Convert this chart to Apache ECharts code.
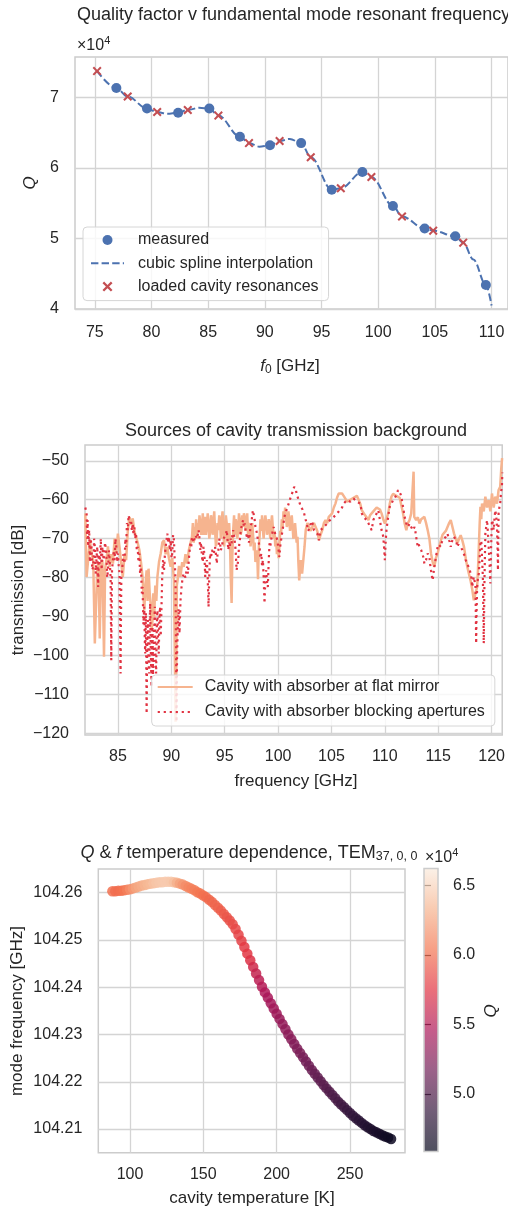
<!DOCTYPE html>
<html><head><meta charset="utf-8">
<script src="https://cdn.jsdelivr.net/npm/echarts@6/dist/echarts.min.js"></script>
<style>html,body{margin:0;padding:0;background:#fff;}#c{width:508px;height:1211px;}</style>
</head><body><div id="c"></div>
<script>
// ---------- Chart 1: Q vs f0 (Q in units of 1e4) ----------
const measuredF = [76.9, 79.6, 82.35, 85.1, 87.8, 90.45, 93.2, 95.9, 98.6, 101.3, 104.1, 106.8, 109.5];
const measuredQ = [7.13, 6.84, 6.78, 6.84, 6.44, 6.32, 6.35, 5.69, 5.94, 5.46, 5.14, 5.03, 4.34];
const resonanceF = [75.2, 77.9, 80.5, 83.2, 85.9, 88.6, 91.3, 94.05, 96.7, 99.4, 102.1, 104.85, 107.5];
const resonanceQ = [7.37, 7.01, 6.79, 6.82, 6.74, 6.35, 6.38, 6.15, 5.71, 5.87, 5.31, 5.11, 4.94];
const splineF = [75.2, 76.9, 77.9, 79.6, 80.5, 81.4, 82.35, 83.2, 84.2, 85.1, 85.9, 87.8, 88.6, 89.5, 90.45, 91.3, 92.2, 93.2, 94.05, 95.9, 96.7, 98.6, 99.4, 101.3, 102.1, 104.1, 104.85, 106.8, 107.5, 108.4, 109.5, 110.0];
const splineQ = [7.37, 7.13, 7.01, 6.84, 6.79, 6.765, 6.78, 6.82, 6.85, 6.84, 6.74, 6.44, 6.35, 6.30, 6.32, 6.38, 6.41, 6.35, 6.15, 5.69, 5.71, 5.94, 5.87, 5.46, 5.31, 5.14, 5.11, 5.03, 4.94, 4.70, 4.34, 4.05];
const f0Ticks = [75, 80, 85, 90, 95, 100, 105, 110];
const qTicks = [4, 5, 6, 7];

// ---------- Chart 2: transmission traces [frequency GHz, dB] ----------
const mirrorTrace = [[81.95,-63.5],[82.07,-79.8],[82.22,-80.2],[82.38,-70.4],[82.53,-74],[82.69,-75.5],[82.84,-96.9],[82.93,-96.9],[83.06,-78.1],[83.18,-76],[83.30,-95.6],[83.42,-77],[83.55,-75.5],[83.70,-100.3],[83.80,-78],[83.92,-75.5],[84.07,-72],[84.23,-77.2],[84.38,-74],[84.54,-76.4],[84.69,-70],[84.85,-73.8],[85.00,-68.7],[85.15,-72.1],[85.30,-76],[85.46,-79.8],[85.62,-74],[85.77,-75.5],[85.93,-68],[86.08,-64.4],[86.23,-66.5],[86.39,-64.8],[86.54,-68],[86.70,-67.8],[86.85,-71],[87.01,-72.9],[87.16,-76],[87.31,-79.8],[87.47,-88.4],[87.58,-82],[87.69,-78.1],[87.78,-86],[87.87,-77.7],[87.98,-84],[88.09,-87.5],[88.17,-93],[88.24,-90.9],[88.32,-84],[88.40,-90.1],[88.50,-82],[88.60,-86],[88.70,-79.8],[88.85,-76],[89.01,-73.8],[89.16,-71],[89.32,-70.4],[89.47,-74],[89.63,-72.1],[89.78,-75],[89.94,-77.2],[90.09,-75],[90.25,-80.7],[90.35,-104.6],[90.40,-117.0],[90.47,-104],[90.52,-82],[90.59,-80.7],[90.72,-77],[90.86,-79.8],[91.02,-76],[91.17,-77.2],[91.33,-74],[91.48,-76.4],[91.64,-73],[91.79,-72.9],[91.94,-69.5],[92.02,-66],[92.10,-71],[92.18,-67],[92.25,-68.7],[92.33,-65],[92.41,-70],[92.48,-66],[92.56,-68.2],[92.64,-64],[92.72,-66],[92.80,-69],[92.87,-67.0],[92.95,-63.5],[93.02,-69],[93.10,-66],[93.18,-64.4],[93.25,-69],[93.33,-67],[93.41,-63.5],[93.49,-66.1],[93.56,-70],[93.64,-68],[93.72,-64],[93.80,-65.2],[93.87,-69],[93.95,-66],[94.02,-63],[94.10,-67.8],[94.18,-72],[94.26,-70],[94.33,-66],[94.41,-67.8],[94.49,-64],[94.57,-66],[94.64,-70],[94.72,-65.2],[94.80,-63],[94.88,-68],[94.95,-72],[95.03,-67.8],[95.11,-64],[95.19,-66],[95.26,-71],[95.34,-69.5],[95.42,-66],[95.49,-70.4],[95.57,-80],[95.65,-86.5],[95.72,-74],[95.80,-67.8],[95.88,-64],[95.96,-69],[96.03,-65],[96.11,-66.1],[96.19,-70],[96.27,-67],[96.34,-63.5],[96.42,-65.2],[96.50,-69],[96.57,-68],[96.65,-64],[96.73,-67.0],[96.80,-63.5],[96.88,-64.5],[96.96,-68],[97.04,-66.1],[97.11,-63.5],[97.19,-69],[97.27,-66],[97.35,-67.0],[97.42,-72],[97.50,-70],[97.58,-66],[97.65,-68.7],[97.73,-73],[97.81,-71],[97.88,-76],[97.96,-74.7],[98.04,-73],[98.12,-80.4],[98.20,-72],[98.27,-69.5],[98.35,-65],[98.43,-68],[98.50,-64],[98.58,-67.8],[98.65,-70],[98.73,-66],[98.81,-64],[98.89,-66.1],[98.96,-69],[99.04,-68],[99.12,-65],[99.20,-67.8],[99.27,-70],[99.35,-66],[99.43,-64],[99.51,-67.0],[99.58,-70],[99.66,-68],[99.74,-72],[99.81,-69.5],[99.89,-74],[99.97,-71],[100.05,-75],[100.12,-72.1],[100.20,-68],[100.28,-69],[100.35,-65],[100.43,-67.0],[100.51,-63],[100.59,-65],[100.66,-62],[100.74,-64.4],[100.82,-67],[100.90,-66],[100.97,-63],[101.05,-65.2],[101.12,-68],[101.20,-66],[101.28,-64],[101.36,-67.0],[101.43,-70],[101.51,-69],[101.59,-66],[101.67,-68.7],[101.74,-71],[101.82,-69.5],[101.90,-76],[101.98,-80.7],[102.05,-78],[102.13,-75.5],[102.25,-79],[102.38,-78.9],[102.48,-72],[102.59,-67.8],[102.75,-66],[102.90,-66.1],[103.06,-68],[103.21,-67.0],[103.36,-66],[103.52,-65.7],[103.67,-68],[103.83,-70.4],[103.98,-69],[104.14,-67.8],[104.29,-66],[104.44,-65.2],[104.60,-66],[104.75,-64.4],[104.91,-64],[105.06,-63.5],[105.22,-62],[105.37,-61.0],[105.52,-59.5],[105.68,-58.4],[105.83,-58],[105.99,-58.4],[106.14,-59],[106.30,-59.7],[106.45,-60.5],[106.60,-60.5],[106.76,-60],[106.91,-60.1],[107.07,-59.5],[107.22,-59.7],[107.38,-59],[107.53,-59.2],[107.69,-61],[107.84,-62.7],[107.99,-63],[108.15,-64.0],[108.30,-64.5],[108.46,-65.2],[108.61,-64],[108.77,-64.4],[108.92,-63],[109.07,-62.7],[109.23,-62],[109.38,-61.8],[109.54,-62.5],[109.69,-63.5],[109.85,-65],[110.00,-66.1],[110.15,-65],[110.31,-63.5],[110.46,-61],[110.62,-59.2],[110.77,-58.5],[110.93,-58.4],[111.08,-59],[111.23,-58.8],[111.39,-59.5],[111.54,-59.2],[111.70,-63.5],[111.85,-66],[112.01,-67.8],[112.16,-66],[112.31,-65.2],[112.47,-63.5],[112.62,-64],[112.69,-52.8],[112.75,-64.4],[112.93,-65.2],[113.09,-64.5],[113.24,-66.1],[113.40,-65],[113.55,-65.2],[113.70,-64.4],[113.86,-66],[114.01,-67.8],[114.17,-70],[114.32,-73.8],[114.48,-76],[114.63,-77.2],[114.78,-75],[114.94,-73.8],[115.09,-72],[115.25,-70.4],[115.40,-69],[115.56,-68.7],[115.71,-68],[115.86,-67.8],[116.02,-66],[116.17,-65.2],[116.33,-65.2],[116.48,-68.7],[116.64,-70],[116.79,-71.2],[116.95,-70],[117.10,-69.1],[117.26,-70.5],[117.41,-72.1],[117.57,-75],[117.72,-77.2],[117.87,-79],[118.02,-80.7],[118.18,-83],[118.33,-85.8],[118.49,-84],[118.64,-82.4],[118.72,-78],[118.80,-72.1],[118.88,-66],[118.95,-61.8],[119.03,-65],[119.10,-61.0],[119.26,-63],[119.41,-59.2],[119.57,-62],[119.72,-60.1],[119.88,-63],[120.03,-58.4],[120.19,-62],[120.34,-59.2],[120.50,-61],[120.65,-57.5],[120.80,-56.7],[120.90,-52],[120.98,-49.3]];
const apertureTrace = [[81.95,-62],[82.07,-63.5],[82.12,-70],[82.16,-65.2],[82.22,-72],[82.31,-67.8],[82.38,-76],[82.45,-70],[82.53,-72.1],[82.60,-78],[82.69,-77.2],[82.77,-70],[82.84,-72.1],[82.92,-79],[82.99,-75.5],[83.07,-72],[83.15,-82.4],[83.22,-74],[83.30,-76.4],[83.40,-70],[83.48,-78],[83.55,-72.1],[83.67,-75.5],[83.80,-71],[83.92,-73.8],[84.00,-80],[84.07,-78.1],[84.15,-73],[84.23,-75.5],[84.32,-80],[84.38,-101.2],[84.45,-78],[84.54,-78.1],[84.62,-73],[84.69,-75.5],[84.77,-70],[84.85,-72.1],[84.93,-76],[85.00,-73.8],[85.08,-77],[85.15,-78.9],[85.25,-104.6],[85.32,-80],[85.40,-78.1],[85.50,-74],[85.62,-76.4],[85.70,-70],[85.77,-72.1],[85.85,-66],[85.93,-67.8],[86.00,-64],[86.08,-63.5],[86.15,-66],[86.23,-65.2],[86.31,-68],[86.39,-66.1],[86.46,-69],[86.54,-67.0],[86.62,-70],[86.70,-68.7],[86.77,-73],[86.85,-72.1],[86.93,-76],[87.01,-73.8],[87.08,-79],[87.16,-77.2],[87.24,-84],[87.31,-82.4],[87.39,-92],[87.47,-87.5],[87.52,-96],[87.56,-99.5],[87.62,-89],[87.69,-114.9],[87.75,-95],[87.81,-90.9],[87.87,-101],[87.93,-104.6],[87.98,-92],[88.02,-86.6],[88.08,-98],[88.15,-108.0],[88.20,-95],[88.24,-92.6],[88.29,-105],[88.33,-102.1],[88.40,-94],[88.46,-87.5],[88.52,-100],[88.58,-104.6],[88.64,-93],[88.70,-88.4],[88.76,-96],[88.83,-99.5],[88.89,-90],[88.95,-87.5],[89.01,-95],[89.07,-89.2],[89.15,-80],[89.23,-75.5],[89.32,-78],[89.41,-73.8],[89.52,-71],[89.63,-68.7],[89.70,-71],[89.78,-69.5],[89.86,-73],[89.94,-70.4],[90.02,-75],[90.09,-73.8],[90.17,-69],[90.25,-70.4],[90.33,-76],[90.40,-81.5],[90.45,-100],[90.49,-117.0],[90.54,-100],[90.59,-94.3],[90.68,-88],[90.77,-94.3],[90.86,-86],[90.96,-82.4],[91.06,-80],[91.17,-78.9],[91.33,-80],[91.48,-77.2],[91.56,-79],[91.64,-75.5],[91.72,-73],[91.79,-71.2],[91.87,-72],[91.94,-69.5],[92.10,-71],[92.25,-69.1],[92.41,-70],[92.56,-67.8],[92.64,-70],[92.72,-72.9],[92.79,-71],[92.87,-74.7],[92.95,-76],[93.02,-72.1],[93.10,-74],[93.18,-79.8],[93.25,-77],[93.33,-75.5],[93.41,-80],[93.49,-87.5],[93.56,-79],[93.64,-73.8],[93.72,-75],[93.80,-72.9],[93.95,-74],[94.10,-72.1],[94.18,-74],[94.26,-76.4],[94.33,-74],[94.41,-72.9],[94.49,-70],[94.57,-71.2],[94.64,-73],[94.72,-72.1],[94.88,-70],[95.03,-70.4],[95.11,-69],[95.19,-67.8],[95.26,-70],[95.34,-72.9],[95.42,-71],[95.49,-72.1],[95.57,-70],[95.65,-71.2],[95.72,-69],[95.80,-67.8],[95.88,-69],[95.96,-68.7],[96.03,-73],[96.11,-78.1],[96.19,-77],[96.27,-75.5],[96.34,-72],[96.42,-70.4],[96.50,-68],[96.57,-67.0],[96.65,-66],[96.73,-65.2],[96.80,-67],[96.88,-66.1],[96.96,-68],[97.04,-67.8],[97.11,-70],[97.19,-68.7],[97.27,-71],[97.35,-68.7],[97.42,-67],[97.50,-66.1],[97.58,-64],[97.65,-62.7],[97.73,-64],[97.81,-65.2],[97.88,-67],[97.96,-67.8],[98.04,-69],[98.12,-70.4],[98.19,-71],[98.27,-72.1],[98.35,-75],[98.43,-73.8],[98.50,-77],[98.58,-75.5],[98.65,-80],[98.73,-86.6],[98.81,-80],[98.89,-78.1],[98.96,-81],[99.04,-82.4],[99.12,-76],[99.20,-71.2],[99.27,-72],[99.35,-70.4],[99.43,-69],[99.51,-68.7],[99.58,-67],[99.66,-67.8],[99.74,-69],[99.81,-68.7],[99.89,-70],[99.97,-71.2],[100.05,-73],[100.12,-74.7],[100.20,-72],[100.28,-70.4],[100.35,-69],[100.43,-67.8],[100.51,-66],[100.59,-64.4],[100.74,-63],[100.90,-61.8],[101.05,-60.5],[101.20,-59.2],[101.36,-58],[101.51,-56.7],[101.59,-57],[101.67,-57.5],[101.74,-58.5],[101.82,-59.2],[101.98,-60.5],[102.13,-61.8],[102.29,-62.5],[102.44,-63.5],[102.52,-64.5],[102.59,-65.2],[102.67,-66],[102.75,-67.0],[102.82,-68],[102.90,-67.8],[102.98,-67],[103.06,-66.1],[103.13,-65.5],[103.21,-65.2],[103.29,-66.5],[103.36,-67.8],[103.52,-68],[103.67,-68.7],[103.75,-69.5],[103.83,-70.4],[103.90,-69],[103.98,-67.8],[104.14,-67.5],[104.29,-67.0],[104.44,-66.5],[104.60,-66.1],[104.75,-65.5],[104.91,-65.2],[105.06,-64.8],[105.22,-64.4],[105.37,-64],[105.52,-63.5],[105.68,-63],[105.83,-62.7],[105.99,-62],[106.14,-61.0],[106.30,-60.5],[106.45,-60.1],[106.60,-60.5],[106.76,-60.5],[106.91,-60],[107.07,-59.7],[107.22,-60],[107.38,-60.5],[107.53,-60.5],[107.69,-61.0],[107.76,-62],[107.84,-63.5],[107.92,-64],[107.99,-64.4],[108.15,-64.8],[108.30,-65.2],[108.46,-66],[108.61,-67.0],[108.69,-67.5],[108.77,-67.8],[108.84,-66.5],[108.92,-65.2],[108.99,-64.8],[109.07,-64.4],[109.15,-64],[109.23,-63.5],[109.30,-63],[109.38,-62.7],[109.46,-64],[109.54,-65.2],[109.61,-66.5],[109.69,-67.8],[109.77,-68.5],[109.85,-69.5],[109.92,-72],[110.00,-75.5],[110.07,-71],[110.15,-67.8],[110.23,-66],[110.31,-64.4],[110.38,-63],[110.46,-61.8],[110.62,-61],[110.77,-60.1],[110.93,-59.5],[111.08,-59.2],[111.15,-58.5],[111.23,-57.5],[111.31,-57.7],[111.39,-58.0],[111.46,-58.5],[111.54,-59.2],[111.62,-60.5],[111.70,-61.8],[111.77,-63],[111.85,-64.4],[111.93,-65.3],[112.01,-66.1],[112.08,-66.5],[112.16,-67.0],[112.24,-66.5],[112.31,-66.1],[112.39,-66.5],[112.47,-67.0],[112.54,-67.5],[112.62,-67.8],[112.70,-67.5],[112.78,-67.0],[112.85,-68],[112.93,-69.5],[113.01,-71],[113.09,-72.1],[113.16,-71.5],[113.24,-71.2],[113.32,-72],[113.40,-72.9],[113.47,-73.5],[113.55,-73.8],[113.63,-75],[113.70,-76.4],[113.78,-76],[113.86,-75.5],[113.93,-74.5],[114.01,-73.8],[114.09,-74],[114.17,-74.7],[114.24,-76.5],[114.32,-78.1],[114.40,-79.5],[114.48,-80.7],[114.55,-79],[114.63,-77.2],[114.71,-76],[114.78,-74.7],[114.86,-73.5],[114.94,-72.1],[115.01,-71.5],[115.09,-71.2],[115.17,-71.5],[115.25,-72.1],[115.32,-71],[115.40,-70.4],[115.56,-70],[115.71,-69.5],[115.79,-69],[115.86,-68.7],[115.94,-69.5],[116.02,-70.4],[116.09,-71],[116.17,-72.1],[116.25,-71],[116.33,-70.4],[116.40,-70],[116.48,-69.5],[116.56,-70],[116.64,-70.4],[116.71,-71],[116.79,-72.1],[116.87,-71.5],[116.95,-71.2],[117.02,-71.5],[117.10,-72.1],[117.18,-72.5],[117.26,-72.9],[117.33,-73.5],[117.41,-73.8],[117.49,-74.5],[117.57,-75.5],[117.64,-76],[117.72,-76.4],[117.80,-77],[117.87,-77.2],[117.95,-78],[118.02,-78.9],[118.10,-80],[118.18,-82.4],[118.25,-81],[118.33,-79.8],[118.41,-81],[118.49,-82.4],[118.52,-90],[118.55,-96.9],[118.58,-90],[118.64,-82.4],[118.72,-80],[118.80,-78.9],[118.88,-75],[118.95,-71.2],[119.03,-70.5],[119.10,-70.4],[119.18,-80],[119.26,-96.9],[119.33,-80],[119.41,-68.7],[119.49,-67],[119.57,-65.2],[119.64,-68],[119.72,-72.1],[119.80,-76],[119.88,-81.5],[119.95,-72],[120.03,-65.2],[120.11,-66],[120.19,-67.8],[120.26,-65],[120.34,-62.7],[120.42,-64],[120.50,-67.0],[120.55,-72],[120.59,-78.1],[120.62,-70],[120.65,-63.5],[120.72,-62],[120.80,-61.0],[120.88,-58],[120.96,-56.7],[121.0,-53]];
const freqTicks = [85, 90, 95, 100, 105, 110, 115, 120];
const dbTicks = [-120, -110, -100, -90, -80, -70, -60, -50];

// ---------- Chart 3: temperature dependence (Q in units of 1e4) ----------
const tempK = [88,90,92,94,96,98,100,102,104,106,
  108,110,112,114,116,118,120,122,124,126,
  128,130,132,134,136,138,140,142,144,146,
  148,150,152,154,156,158,160,162,164,166,
  168,170,172,174,176,178,180,182,184,186,
  188,190,192,194,196,198,200,202,204,206,
  208,210,212,214,216,218,220,222,224,226,
  228,230,232,234,236,238,240,242,244,246,
  248,250,252,254,256,258,260,262,264,266,
  268,270,272,274,276,278];
const modeFreq = [104.2603,104.2603,104.2604,104.2604,104.2605,104.2606,104.2607,104.2609,104.2611,104.2613,
  104.2615,104.2616,104.2618,104.2619,104.2620,104.2621,104.2622,104.2622,104.2623,104.2623,
  104.2623,104.2622,104.2621,104.2619,104.2617,104.2614,104.2611,104.2608,104.2605,104.2601,
  104.2598,104.2594,104.2590,104.2585,104.2580,104.2574,104.2568,104.2562,104.2555,104.2548,
  104.2541,104.2533,104.2523,104.2511,104.2498,104.2485,104.2471,104.2457,104.2443,104.2429,
  104.2415,104.2401,104.2389,104.2378,104.2366,104.2355,104.2344,104.2333,104.2322,104.2311,
  104.2300,104.2290,104.2280,104.2270,104.2261,104.2252,104.2243,104.2234,104.2225,104.2217,
  104.2209,104.2201,104.2193,104.2186,104.2179,104.2172,104.2165,104.2158,104.2152,104.2146,
  104.2140,104.2134,104.2128,104.2123,104.2118,104.2113,104.2108,104.2104,104.2100,104.2096,
  104.2093,104.2090,104.2087,104.2084,104.2082,104.2079];
const modeQ = [6.02,6.00,6.00,6.02,6.04,6.08,6.15,6.20,6.25,6.28,
  6.30,6.33,6.35,6.37,6.40,6.42,6.43,6.44,6.45,6.45,
  6.44,6.40,6.32,6.25,6.20,6.15,6.12,6.10,6.08,6.06,
  6.04,6.02,6.00,5.99,5.98,5.97,5.96,5.94,5.92,5.90,
  5.88,5.86,5.84,5.82,5.80,5.78,5.76,5.72,5.65,5.58,
  5.54,5.50,5.47,5.44,5.42,5.40,5.38,5.36,5.34,5.32,
  5.30,5.28,5.26,5.24,5.22,5.20,5.18,5.16,5.14,5.12,
  5.10,5.08,5.06,5.04,5.02,5.00,4.98,4.96,4.94,4.92,
  4.90,4.88,4.86,4.84,4.82,4.80,4.78,4.76,4.75,4.73,
  4.72,4.70,4.69,4.67,4.66,4.65];
const tempTicks = [100, 150, 200, 250];
const modeFreqTicks = [104.21, 104.22, 104.23, 104.24, 104.25, 104.26];
const cbarTicks = [5.0, 5.5, 6.0, 6.5];
const rocket = ['#03051a', '#35193e', '#701f57', '#ad1759', '#e13342', '#f37651', '#f6b48f', '#faebdd'];

// ---------- styling ----------
const FONT = "'Liberation Sans', Arial, Helvetica, sans-serif";
const TXT = '#262626';
const GRIDC = '#d4d4d4';
const BLUE = '#4c72b0', RED = '#c44e52';
const ORANGE = '#f6b48f', CRIMSON = '#e13342';
const minus = v => String(v).replace('-', '\u2212');
const XPATH = 'path://M0,1.6L1.6,0L5,3.4L8.4,0L10,1.6L6.6,5L10,8.4L8.4,10L5,6.6L1.6,10L0,8.4L3.4,5Z';

function axis(gridIndex, min, max, ticks, margin, fmt) {
  return {
    type: 'value', gridIndex, min, max, scale: true,
    axisLine: { show: false },
    axisTick: { show: false, customValues: ticks },
    axisLabel: { customValues: ticks, color: TXT, fontSize: 16, fontFamily: FONT, margin, formatter: fmt || (v => minus(v)) },
    splitLine: { show: true, lineStyle: { color: GRIDC, width: 1.3 } }
  };
}
function gridBox(left, top, width, height) {
  return { left, top, width, height, show: true, borderColor: '#cccccc', borderWidth: 1.5, backgroundColor: 'rgba(0,0,0,0)' };
}
function richFor(size, subSize) {
  return {
    i: { fontStyle: 'italic', fontSize: size, fontFamily: FONT, fill: TXT },
    n: { fontSize: size, fontFamily: FONT, fill: TXT },
    sub: { fontSize: subSize || 12, padding: [8, 0, 0, 0], fontFamily: FONT, fill: TXT },
    sup: { fontSize: 11, padding: [0, 0, 10, 0], fontFamily: FONT, fill: TXT }
  };
}
function txt(text, x, y, size, opts) {
  opts = opts || {};
  return {
    type: 'text', x, y, rotation: opts.rot || 0, z: 100,
    style: {
      text, fill: TXT, fontSize: size, fontFamily: FONT, fontStyle: opts.italic ? 'italic' : 'normal',
      align: opts.align || 'center', verticalAlign: 'middle',
      textAlign: opts.align || 'center', textVerticalAlign: 'middle',
      rich: opts.rich ? richFor(size, opts.subSize) : undefined
    }
  };
}

const legendText = (pad) => ({ fontSize: 16, fontFamily: FONT, color: TXT, lineHeight: 16, padding: [0, 0, 0, pad] });
const noSymbol = { color: 'rgba(0,0,0,0)', opacity: 0, borderWidth: 0 };

const chart = echarts.init(document.getElementById('c'), null, { renderer: 'canvas' });
const cbTop = 868.5, cbH = 283, cbLeft = 424, cbW = 14;

chart.setOption({
  animation: false,
  backgroundColor: '#ffffff',
  grid: [
    gridBox(75, 57, 433, 252),
    gridBox(85, 445, 422, 290),
    gridBox(98.3, 869, 306.7, 283.7),
    { left: cbLeft, top: cbTop, width: cbW, height: cbH, show: false }
  ],
  xAxis: [
    axis(0, 73.25, 111.45, f0Ticks, 16),
    axis(1, 81.92, 120.99, freqTicks, 14),
    axis(2, 78.4, 287.5, tempTicks, 14),
    { type: 'value', gridIndex: 3, min: 0, max: 1, show: false }
  ],
  yAxis: [
    axis(0, 4.0, 7.57, qTicks, 16),
    axis(1, -120.4, -45.95, dbTicks, 16),
    axis(2, 104.205, 104.265, modeFreqTicks, 16, v => v.toFixed(2)),
    {
      type: 'value', gridIndex: 3, position: 'right', min: 4.585, max: 6.622,
      axisLine: { show: false },
      axisTick: { show: true, length: 7, inside: false, customValues: cbarTicks, lineStyle: { color: TXT, width: 1.2 } },
      axisLabel: { customValues: cbarTicks, color: TXT, fontSize: 16, fontFamily: FONT, margin: 15, formatter: v => v.toFixed(1) },
      splitLine: { show: false }
    }
  ],
  visualMap: [{
    type: 'continuous', show: false, seriesIndex: 5, dimension: 2,
    min: 4.585, max: 6.622, inRange: { color: rocket }
  }],
  legend: [
    {
      data: ['measured', { name: 'cubic spline interpolation', itemStyle: noSymbol }, 'loaded cavity resonances'],
      orient: 'vertical', left: 83, top: 227, padding: [5, 10, 6, 7],
      itemWidth: 33, itemHeight: 10, itemGap: 7.3, selectedMode: false,
      backgroundColor: 'rgba(255,255,255,0.8)', borderColor: '#d6d6d6', borderWidth: 1, borderRadius: 4,
      textStyle: legendText(9)
    },
    {
      data: [{ name: 'Cavity with absorber at flat mirror', itemStyle: noSymbol }, { name: 'Cavity with absorber blocking apertures', itemStyle: noSymbol }],
      orient: 'vertical', left: 151.7, top: 675, padding: [4, 10, 6, 5],
      itemWidth: 35, itemHeight: 10, itemGap: 9, selectedMode: false,
      backgroundColor: 'rgba(255,255,255,0.8)', borderColor: '#d6d6d6', borderWidth: 1, borderRadius: 4,
      textStyle: legendText(7)
    }
  ],
  series: [
    {
      type: 'line', name: 'cubic spline interpolation', xAxisIndex: 0, yAxisIndex: 0,
      data: splineF.map((f, i) => [f, splineQ[i]]), smooth: 0.35, smoothMonotone: 'x',
      symbol: 'none', showSymbol: false, z: 2,
      lineStyle: { color: BLUE, width: 2, type: [7.4, 3.2] }, itemStyle: { color: BLUE }
    },
    {
      type: 'scatter', name: 'measured', xAxisIndex: 0, yAxisIndex: 0,
      data: measuredF.map((f, i) => [f, measuredQ[i]]), symbol: 'circle', symbolSize: 10, z: 3,
      itemStyle: { color: BLUE, opacity: 1 }
    },
    {
      type: 'scatter', name: 'loaded cavity resonances', xAxisIndex: 0, yAxisIndex: 0,
      data: resonanceF.map((f, i) => [f, resonanceQ[i]]), symbol: XPATH, symbolSize: 9, z: 4,
      itemStyle: { color: RED, opacity: 1 }
    },
    {
      type: 'line', name: 'Cavity with absorber at flat mirror', xAxisIndex: 1, yAxisIndex: 1,
      data: mirrorTrace, symbol: 'none', showSymbol: false, z: 2,
      lineStyle: { color: ORANGE, width: 2.5 }, itemStyle: { color: ORANGE }
    },
    {
      type: 'line', name: 'Cavity with absorber blocking apertures', xAxisIndex: 1, yAxisIndex: 1,
      data: apertureTrace, symbol: 'none', showSymbol: false, z: 3,
      lineStyle: { color: CRIMSON, width: 2.2, type: [2.2, 3.8] }, itemStyle: { color: CRIMSON }
    },
    {
      type: 'scatter', name: 'Q', xAxisIndex: 2, yAxisIndex: 2,
      data: tempK.map((t, i) => [t, modeFreq[i], modeQ[i]]),
      symbol: 'circle', symbolSize: 10.5, itemStyle: { opacity: 0.85 }, z: 3
    }
  ],
  graphic: [
    txt('Quality factor v fundamental mode resonant frequency', 77, 15, 18, { align: 'left' }),
    txt('{n|\u00d710}{sup|4}', 77, 46, 16, { align: 'left', rich: true }),
    txt('{i|f}{sub|0}{n| [GHz]}', 290, 366, 17, { rich: true }),
    txt('{i|Q}', 30, 183, 17, { rot: Math.PI / 2, rich: true }),
    txt('Sources of cavity transmission background', 296, 431, 18),
    txt('frequency [GHz]', 296, 781, 17),
    txt('transmission [dB]', 18, 590, 17, { rot: Math.PI / 2 }),
    txt('{i|Q}{n| & }{i|f}{n| temperature dependence, TEM}{sub|37, 0, 0}', 249, 853, 18, { rich: true, subSize: 12.5 }),
    txt('{n|\u00d710}{sup|4}', 425, 858, 16, { align: 'left', rich: true }),
    txt('cavity temperature [K]', 252, 1198, 17),
    txt('mode frequency [GHz]', 17, 1011, 17, { rot: Math.PI / 2 }),
    txt('{i|Q}', 491, 1011, 17, { rot: Math.PI / 2, rich: true }),
    {
      type: 'rect', z: 50,
      shape: { x: cbLeft, y: cbTop, width: cbW, height: cbH },
      style: {
        fill: new echarts.graphic.LinearGradient(0, 0, 0, 1,
          rocket.slice().reverse().map((c, i, a) => ({ offset: i / (a.length - 1), color: c }))),
        opacity: 0.7
      }
    },
    {
      type: 'rect', z: 51,
      shape: { x: cbLeft, y: cbTop, width: cbW, height: cbH },
      style: { fill: 'none', stroke: '#cccccc', lineWidth: 1.5 }
    }
  ]
});
</script></body></html>
